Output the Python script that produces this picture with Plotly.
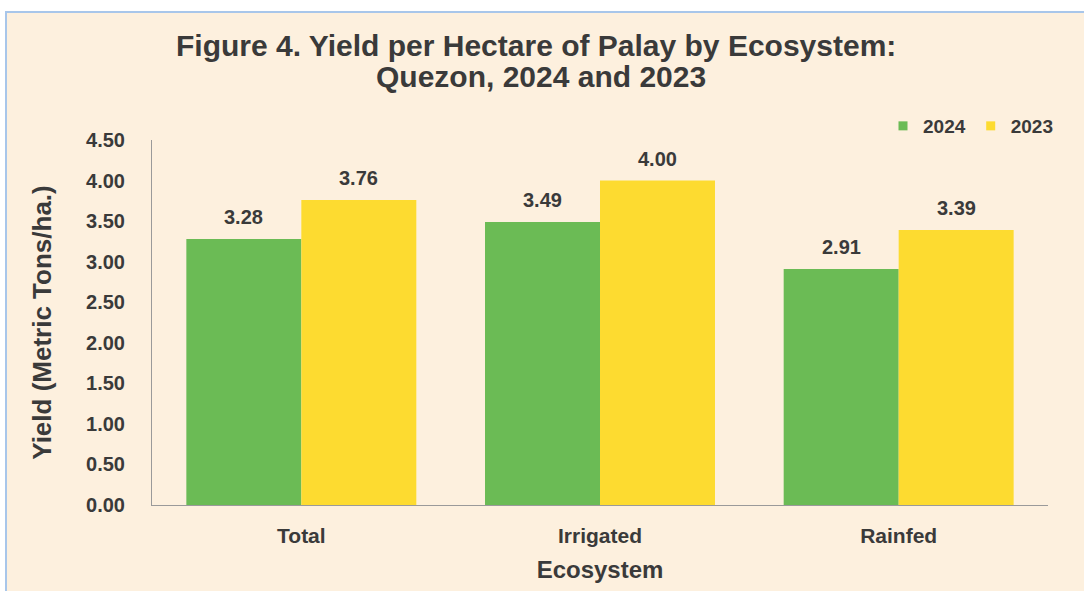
import plotly.graph_objects as go

categories = ["Total", "Irrigated", "Rainfed"]
yield_2024 = [3.28, 3.49, 2.91]
yield_2023 = [3.76, 4.00, 3.39]
y_ticks = [0, 0.5, 1.0, 1.5, 2.0, 2.5, 3.0, 3.5, 4.0, 4.5]

FONT = "Arial, Liberation Sans, sans-serif"
TXT = "#3a3a3a"
GREEN = "#6BBB55"
YELLOW = "#FDDB30"
BG = "#FDF0DE"

W, H = 1084, 591
L, R, T, B = 152, 36, 140, 86
pw, ph = W - L - R, H - T - B

def px2x(px):
    return (px - L) / pw

def py2y(py):
    return (H - B - py) / ph

fig = go.Figure()
fig.add_trace(go.Bar(name="2024", x=categories, y=yield_2024, marker_color=GREEN,
                     marker_line_width=0, showlegend=False))
fig.add_trace(go.Bar(name="2023", x=categories, y=yield_2023, marker_color=YELLOW,
                     marker_line_width=0, showlegend=False))
# legend entries (small square swatches)
for name, col in (("2024", GREEN), ("2023", YELLOW)):
    fig.add_trace(go.Scatter(name=f"<b>{name}</b>", x=[None], y=[None], mode="markers",
                             marker=dict(symbol="square", size=9, color=col),
                             showlegend=True))

annotations = []
bw = pw / 3 * 0.77 / 2
for vals, sh in ((yield_2024, -bw / 2), (yield_2023, bw / 2)):
    for c, v in zip(categories, vals):
        annotations.append(dict(x=c, y=v, xref="x", yref="y", text=f"<b>{v:.2f}</b>",
                                showarrow=False, xshift=sh, yshift=22,
                                yanchor="middle", xanchor="center",
                                font=dict(family=FONT, size=20, color=TXT)))

annotations.append(dict(x=px2x(536), y=py2y(46), xref="paper", yref="paper",
                        xanchor="center", yanchor="middle",
                        text="<b>Figure 4. Yield per Hectare of Palay by Ecosystem:</b>",
                        showarrow=False, font=dict(family=FONT, size=30, color=TXT)))
annotations.append(dict(x=px2x(541), y=py2y(77), xref="paper", yref="paper",
                        xanchor="center", yanchor="middle",
                        text="<b>Quezon, 2024 and 2023</b>",
                        showarrow=False, font=dict(family=FONT, size=30, color=TXT)))

fig.update_layout(
    width=W, height=H,
    margin=dict(l=L, r=R, t=T, b=B),
    paper_bgcolor="white",
    plot_bgcolor=BG,
    barmode="group",
    bargap=0.23,
    bargroupgap=0,
    showlegend=True,
    legend=dict(orientation="h", x=px2x(1058), xanchor="right", y=py2y(126), yanchor="middle",
                font=dict(family=FONT, size=19, color=TXT), bgcolor="rgba(0,0,0,0)",
                itemwidth=30, traceorder="normal", tracegroupgap=0),
    annotations=annotations,
    shapes=[dict(type="rect", xref="paper", yref="paper",
                 x0=px2x(6), x1=px2x(1100), y0=py2y(600), y1=py2y(12),
                 fillcolor=BG, line=dict(color="#A8C6EA", width=2), layer="below")],
    xaxis=dict(showline=True, linecolor="#9a9a9a", linewidth=1, ticks="",
               tickfont=dict(family=FONT, size=21, color=TXT),
               tickvals=categories,
               ticktext=[f"<b>{c}</b>" for c in categories],
               ticklabelstandoff=12,
               title=dict(text="<b>Ecosystem</b>", standoff=14,
                          font=dict(family=FONT, size=24, color=TXT)),
               showgrid=False),
    yaxis=dict(range=[0, 4.5], tickvals=y_ticks,
               ticktext=[f"<b>{t:.2f}</b>" for t in y_ticks],
               showline=True, linecolor="#9a9a9a", linewidth=1, ticks="",
               ticklabelstandoff=22,
               tickfont=dict(family=FONT, size=20, color=TXT),
               title=dict(text="<b>Yield (Metric Tons/ha.)</b>", standoff=26,
                          font=dict(family=FONT, size=26, color=TXT)),
               showgrid=False, zeroline=False),
)

fig.write_html("out.html", config={"displayModeBar": False},
               post_script="document.body.style.margin='0';document.body.style.overflow='hidden';")
